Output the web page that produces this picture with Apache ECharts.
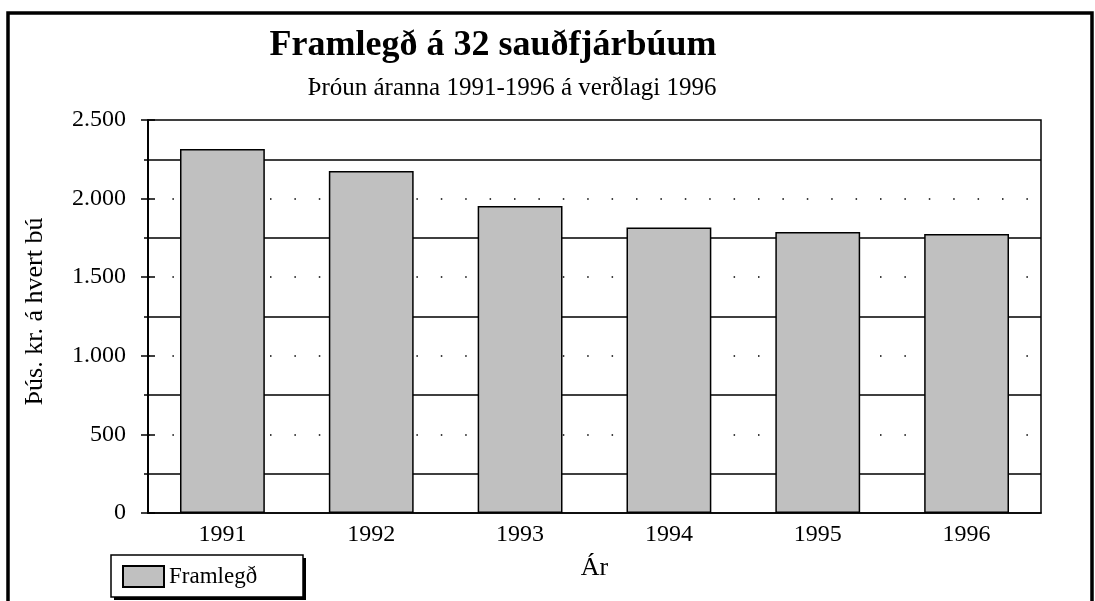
<!DOCTYPE html>
<html>
<head>
<meta charset="utf-8">
<script src="https://cdn.jsdelivr.net/npm/echarts@6/dist/echarts.min.js"></script>
<style>
	html, body { margin: 0; padding: 0; background: #fff; }
	#chart { width: 1095px; height: 601px; }
</style>
</head>
<body>
<div id="chart"></div>
<script>
// gögn lesin af myndinni
var years = ['1991', '1992', '1993', '1994', '1995', '1996'];
var framlegd = [2315, 2175, 1953, 1816, 1788, 1775];
var yMin = 0;
var yMax = 2500;
var yStep = 500;

var serif = '"Liberation Serif", "DejaVu Serif", serif';

function thousands(v) {
	if (v >= 1000) {
		var rest = String(v % 1000);
		while (rest.length < 3) rest = '0' + rest;
		return Math.floor(v / 1000) + '.' + rest;
	}
	return String(v);
}

var chart = echarts.init(document.getElementById('chart'));

var option = {
	backgroundColor: '#fff',
	animation: false,
	grid: {
		left: 148,
		right: 54,
		top: 120,
		bottom: 88,
		show: true,
		borderColor: '#000',
		borderWidth: 1.5,
		backgroundColor: 'transparent'
	},
	legend: {
		left: 111,
		top: 555,
		data: ['Framlegð'],
		icon: 'rect',
		itemWidth: 41,
		itemHeight: 21,
		padding: [10, 51, 10, 11],
		textStyle: {
			fontFamily: serif,
			fontSize: 23,
			color: '#000'
		}
	},
	xAxis: {
		type: 'category',
		data: years,
		name: 'Ár',
		nameLocation: 'middle',
		nameGap: 42,
		nameTextStyle: {
			fontFamily: serif,
			fontSize: 26,
			color: '#000'
		},
		axisLine: {
			lineStyle: { color: '#000', width: 1.5 }
		},
		axisTick: {
			inside: true,
			length: 8,
			interval: 0,
			lineStyle: { color: '#000', width: 1.5 }
		},
		axisLabel: {
			margin: 10,
			fontFamily: serif,
			fontSize: 24,
			color: '#000'
		},
		splitLine: { show: false }
	},
	yAxis: [{
		type: 'value',
		min: yMin,
		max: yMax,
		interval: yStep,
		name: 'Þús. kr. á hvert bú',
		nameLocation: 'middle',
		nameGap: 100,
		nameRotate: 90,
		nameTextStyle: {
			fontFamily: serif,
			fontSize: 26,
			color: '#000',
			padding: [0, 0, 0, 10]
		},
		axisLine: {
			show: true,
			lineStyle: { color: '#000', width: 1.5 }
		},
		axisTick: {
			show: true,
			length: 7,
			lineStyle: { color: '#000', width: 1.5 }
		},
		minorTick: {
			show: true,
			splitNumber: 2,
			length: 4,
			lineStyle: { color: '#000', width: 1.5 }
		},
		axisLabel: {
			margin: 22,
			fontFamily: serif,
			fontSize: 24,
			color: '#000',
			formatter: thousands
		},
		// punktalínur á 500 fresti
		splitLine: {
			show: true,
			showMinLine: false,
			showMaxLine: false,
			lineStyle: {
				color: '#000',
				width: 1.5,
				type: [1.5, 22.9]
			}
		},
		// heilar línur mitt á milli
		minorSplitLine: {
			show: true,
			lineStyle: { color: '#000', width: 1.5 }
		}
	}, {
		type: 'value',
		min: yMin,
		max: yMax,
		interval: yStep,
		position: 'left',
		offset: 0,
		axisLine: {
			show: true,
			lineStyle: { color: '#000', width: 1.5 }
		},
		axisTick: {
			show: true,
			inside: true,
			length: 7,
			lineStyle: { color: '#000', width: 1.5 }
		},
		axisLabel: { show: false },
		splitLine: { show: false }
	}],
	graphic: [{
		type: 'polyline',
		shape: {
			points: [[8, 610], [8, 13], [1092, 13], [1092, 610]]
		},
		style: {
			fill: null,
			stroke: '#000',
			lineWidth: 3.5
		}
	}, {
		// skuggi og rammi um skýringu
		type: 'rect',
		shape: { x: 114, y: 558, width: 192, height: 42 },
		style: { fill: '#000' },
		z: -1
	}, {
		type: 'rect',
		shape: { x: 111, y: 555, width: 192, height: 42 },
		style: { fill: '#fff', stroke: '#000', lineWidth: 1.5 },
		z: -1
	}, {
		type: 'text',
		x: 493,
		y: 46,
		style: {
			text: 'Framlegð á 32 sauðfjárbúum',
			fontFamily: serif,
			fontWeight: 'bold',
			fontSize: 36,
			fill: '#000',
			align: 'center',
			verticalAlign: 'middle'
		}
	}, {
		type: 'text',
		x: 512,
		y: 88,
		style: {
			text: 'Þróun áranna 1991-1996 á verðlagi 1996',
			fontFamily: serif,
			fontSize: 25,
			fill: '#000',
			align: 'center',
			verticalAlign: 'middle'
		}
	}],
	series: [{
		name: 'Framlegð',
		type: 'bar',
		data: framlegd,
		barWidth: '57%',
		itemStyle: {
			color: '#c0c0c0',
			borderColor: '#000',
			borderWidth: 1.5
		}
	}]
};

chart.setOption(option);
</script>
</body>
</html>
